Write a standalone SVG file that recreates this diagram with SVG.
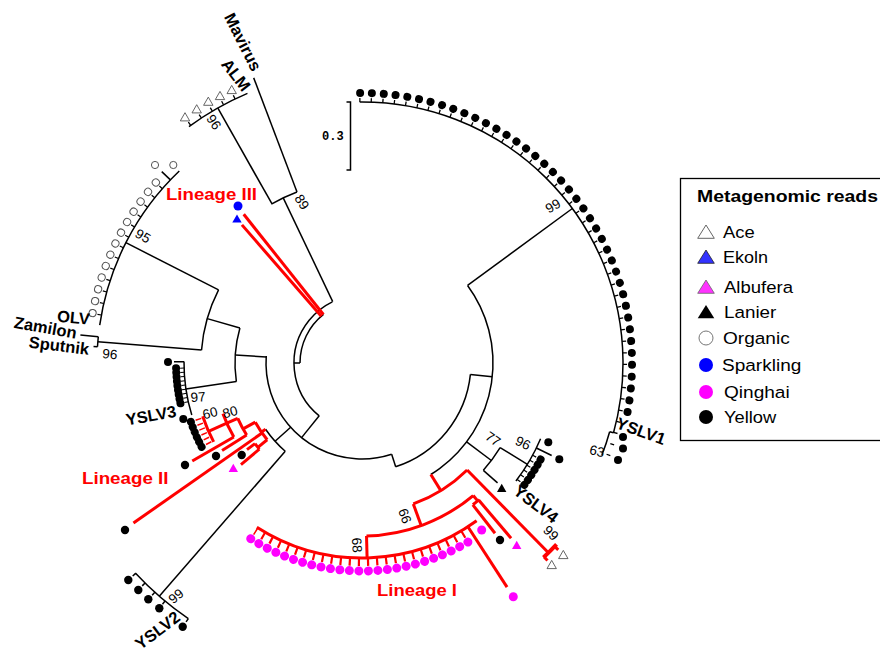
<svg xmlns="http://www.w3.org/2000/svg" width="880" height="652" viewBox="0 0 880 652">
  <defs>
    <style>
      .k{fill:none;stroke:#000;stroke-width:1.5}
      .r{fill:none;stroke:#f00;stroke-width:3}
      .dots{fill:none;stroke-linecap:round}
      .tip{font-family:"Liberation Sans",Arial,sans-serif;font-weight:bold;font-size:16.5px;fill:#000;text-anchor:middle}
      .bs{font-family:"Liberation Sans",Arial,sans-serif;font-size:13.5px;fill:#000;text-anchor:middle}
      .lin{font-family:"Liberation Sans",Arial,sans-serif;font-weight:bold;font-size:16.5px;fill:#f00}
      .leg{font-family:"Liberation Sans",Arial,sans-serif;font-size:16.3px;fill:#000}
    </style>
    <path id="tri" d="M0,-4.6L4.7,3.6H-4.7Z"/>
    <path id="triL" d="M0,-7L8.3,6.3H-8.3Z"/>
  </defs>
  <rect width="880" height="652" fill="#fff"/>

  <!-- branches of the circular tree, polar frame centred on the root -->
  <g id="connectors" transform="translate(362,363)">
    <g class="k">
      <!-- root arcs -->
      <circle r="68" stroke-dasharray="136.5 2000" transform="rotate(129)"/>
      <circle r="62" stroke-dasharray="55.73 2000" transform="rotate(180)"/>
      <line x1="62" x2="68" transform="rotate(180)"/>
      <line x1="68" x2="96" transform="rotate(129)"/>
      <circle r="96" stroke-dasharray="187.66 2000" transform="rotate(72)"/>
      <line x1="96" x2="109" transform="rotate(72)"/>
      <circle r="109" stroke-dasharray="125.56 2000" transform="rotate(6)"/>
      <line x1="109" x2="131" transform="rotate(6)"/>
      <circle r="131" stroke-dasharray="216.29 2000" transform="rotate(-36.3)"/>
      <!-- YSLV1 clade -->
      <line x1="131" x2="261" transform="rotate(-36.3)"/>
      <circle r="261" stroke-dasharray="482.86 3000" transform="rotate(-90.5)"/>
      <line x1="257" x2="261" transform="rotate(15.5)"/>
      <circle r="257" stroke-dasharray="24.67 3000" transform="rotate(15.5)"/>
      <path d="M263,0A263,263 0 0 1 -96.0,244.9" stroke-width="4" stroke-dasharray="1.3 10.267" transform="rotate(-90.6)"/>
      <!-- YSLV4 clade -->
      <line x1="131" x2="162" transform="rotate(37)"/>
      <circle r="162" stroke-dasharray="28.27 2000" transform="rotate(31.5)"/>
      <line x1="162" x2="194" transform="rotate(31.5)"/>
      <circle r="194" stroke-dasharray="49.10 2000" transform="rotate(23)"/>
      <line x1="194" x2="211" transform="rotate(26)"/>
      <line x1="162" x2="181" transform="rotate(41.5)"/>
      <path d="M196,0A196,196 0 0 1 193.6,30.7" stroke-width="4" stroke-dasharray="1.2 4.615" transform="rotate(28.2)"/>
      <!-- Mavirus / ALM clade -->
      <line x1="68" x2="183" transform="rotate(-115.5)"/>
      <circle r="183" stroke-dasharray="28.43 2000" transform="rotate(-119.7)"/>
      <line x1="183" x2="305" transform="rotate(-110.8)"/>
      <line x1="183" x2="293" transform="rotate(-119.5)"/>
      <circle r="293" stroke-dasharray="67.50 3000" transform="rotate(-126.2)"/>
      <path d="M295,0A295,295 0 0 1 290.0,54.3" stroke-width="4" stroke-dasharray="1.3 11.7" transform="rotate(-125.9)"/>
      <!-- OLV / Zamilon / Sputnik clade -->
      <line x1="96" x2="127" transform="rotate(183.6)"/>
      <circle r="127" stroke-dasharray="54.08 2000" transform="rotate(171.6)"/>
      <line x1="127" x2="161" transform="rotate(196)"/>
      <circle r="161" stroke-dasharray="62.94 2000" transform="rotate(184.6)"/>
      <line x1="161" x2="265" transform="rotate(207)"/>
      <circle r="265" stroke-dasharray="176.68 3000" transform="rotate(188.2)"/>
      <path d="M267,0A267,267 0 0 1 228.4,138.3" stroke-width="4" stroke-dasharray="1.2 10.72" transform="rotate(190.3)"/>
      <line x1="265" x2="277" transform="rotate(223.7)"/>
      <line x1="161" x2="265" transform="rotate(184.6)"/>
      <circle r="265" stroke-dasharray="10.18 3000" transform="rotate(183.5)"/>
      <line x1="265" x2="283" transform="rotate(185.7)"/>
      <line x1="265" x2="269" transform="rotate(183.5)"/>
      <!-- YSLV3 clade -->
      <line x1="127" x2="178" transform="rotate(171.6)"/>
      <circle r="178" stroke-dasharray="54.37 2000" transform="rotate(163)"/>
      <line x1="178" x2="188" transform="rotate(180.4)"/>
      <path d="M180,0A180,180 0 0 1 176.4,35.6" stroke-width="4" stroke-dasharray="1 3.28" transform="rotate(167.3)"/>
      <!-- YSLV2 clade -->
      <line x1="96" x2="117" transform="rotate(138)"/>
      <circle r="117" stroke-dasharray="29.61 2000" transform="rotate(131)"/>
      <line x1="117" x2="309" transform="rotate(131)"/>
      <circle r="309" stroke-dasharray="70.11 3000" transform="rotate(124.2)"/>
      <line x1="309" x2="313" transform="rotate(137.1)"/>
      <line x1="309" x2="313" transform="rotate(134.6)"/>
      <line x1="309" x2="313" transform="rotate(132.1)"/>
      <line x1="309" x2="313" transform="rotate(129.6)"/>
      <line x1="309" x2="313" transform="rotate(124.2)"/>
    </g>
    <g class="r">
      <!-- Lineage III -->
      <line x1="62" x2="190" transform="rotate(-128.5)"/>
      <line x1="62" x2="183" transform="rotate(-131)"/>
      <!-- Lineage II -->
      <line x1="117" x2="122" transform="rotate(145.5)"/>
      <circle r="122" stroke-dasharray="21.29 2000" transform="rotate(141)"/>
      <line x1="122" x2="134" transform="rotate(141)"/>
      <circle r="134" stroke-dasharray="7.02 2000" transform="rotate(140)"/>
      <line x1="134" x2="144" transform="rotate(143)"/>
      <line x1="134" x2="158" transform="rotate(140)"/>
      <line x1="122" x2="279" transform="rotate(145)"/>
      <line x1="122" x2="136" transform="rotate(151)"/>
      <circle r="136" stroke-dasharray="18.99 2000" transform="rotate(148)"/>
      <line x1="136" x2="165" transform="rotate(148)"/>
      <line x1="136" x2="148" transform="rotate(156)"/>
      <circle r="148" stroke-dasharray="25.83 2000" transform="rotate(150)"/>
      <line x1="148" x2="196" transform="rotate(150)"/>
      <line x1="148" x2="168" transform="rotate(156)"/>
      <circle r="168" stroke-dasharray="27.86 2000" transform="rotate(152)"/>
      <path d="M173,0A173,173 0 0 1 170.8,27.4" stroke-width="6" stroke-dasharray="1.5 3.694" transform="rotate(152.15)"/>
      <!-- Lineage I and its sister branches -->
      <line x1="131" x2="150" transform="rotate(58.3)"/>
      <circle r="150" stroke-dasharray="64.14 2000" transform="rotate(45.5)"/>
      <line x1="150" x2="266" transform="rotate(45.5)"/>
      <circle r="266" stroke-width="4" stroke-dasharray="18.57 3000" transform="rotate(43)"/>
      <line x1="266" x2="271" transform="rotate(43.6)"/>
      <line x1="266" x2="271" transform="rotate(46.8)"/>
      <line x1="150" x2="173" transform="rotate(70)"/>
      <circle r="173" stroke-dasharray="116.25 2000" transform="rotate(50)"/>
      <line x1="173" x2="195" transform="rotate(88.5)"/>
      <circle r="195" stroke-dasharray="233.47 2000" transform="rotate(54)"/>
      <path d="M199,0A199,199 0 0 1 89.1,177.9" stroke-width="8" stroke-dasharray="2.2 6.9" transform="rotate(59.1)"/>
      <line x1="195" x2="267" transform="rotate(57.1)"/>
      <line x1="173" x2="180" transform="rotate(50)"/>
      <circle r="180" stroke-dasharray="8.17 2000" transform="rotate(49.4)"/>
      <line x1="180" x2="216" transform="rotate(52)"/>
      <line x1="180" x2="230" transform="rotate(49.6)"/>
    </g>
  </g>

  <!-- YSLV1 clade tips -->
  <g id="yslv1">
    <path class="dots" d="M270,0A270,270 0 0 1 -52.9,264.8" stroke="#000" stroke-width="8" stroke-dasharray="0.01 11.865" transform="translate(362,363) rotate(-90.4)"/>
    <circle cx="623" cy="437" r="4"/>
    <circle cx="623" cy="448.5" r="4"/>
    <circle cx="618" cy="460" r="4"/>
    <text class="tip" dy=".35em" transform="translate(641,431) rotate(20)">YSLV1</text>
    <text class="bs" dy=".35em" transform="translate(553,206) rotate(-30)">99</text>
    <text class="bs" dy=".35em" transform="translate(597,451) rotate(12)">63</text>
  </g>

  <!-- YSLV4 clade tips -->
  <g id="yslv4">
    <path class="dots" d="M203,0A203,203 0 0 1 200.5,31.8" stroke="#000" stroke-width="8" stroke-dasharray="0.01 6.013" transform="translate(362,363) rotate(28.4)"/>
    <circle cx="548.3" cy="442.3" r="4"/>
    <circle cx="559.3" cy="459.3" r="4"/>
    <use href="#tri" x="501.7" y="488.3" fill="#000"/>
    <text class="tip" dy=".35em" transform="translate(536,504) rotate(37)">YSLV4</text>
    <text class="bs" dy=".35em" transform="translate(493,439) rotate(35)">77</text>
    <text class="bs" dy=".35em" transform="translate(523,443) rotate(25)">96</text>
  </g>

  <!-- Lineage I -->
  <g id="lineage-1">
    <path class="dots" d="M208,0A208,208 0 0 1 93.1,186.0" stroke="#f0f" stroke-width="9" stroke-dasharray="0.01 9.501" transform="translate(362,363) rotate(59.4)"/>
    <circle cx="481.7" cy="530" r="4.5" fill="#f0f"/>
    <circle cx="500" cy="540" r="4.2" fill="#000"/>
    <use href="#tri" x="516.7" y="545.3" fill="#f0f"/>
    <circle cx="513.3" cy="596.7" r="4.5" fill="#f0f"/>
    <use href="#tri" x="551.7" y="565" fill="#fff" stroke="#555" stroke-width="0.9"/>
    <use href="#tri" x="563.3" y="555" fill="#fff" stroke="#555" stroke-width="0.9"/>
    <text class="bs" dy=".35em" transform="translate(551,533) rotate(45)">99</text>
    <text class="bs" dy=".35em" transform="translate(405,516) rotate(70)">66</text>
    <text class="bs" dy=".35em" transform="translate(357,545) rotate(85)">68</text>
    <text class="lin" x="377" y="596" textLength="80" lengthAdjust="spacingAndGlyphs">Lineage I</text>
  </g>

  <!-- Lineage II -->
  <g id="lineage-2">
    <path class="dots" d="M181,0A181,181 0 0 1 178.7,28.6" stroke="#000" stroke-width="8" stroke-dasharray="0.01 5.424" transform="translate(362,363) rotate(152.4)"/>
    <circle cx="241.7" cy="455" r="4.2"/>
    <circle cx="216" cy="456" r="4.2"/>
    <circle cx="185" cy="465" r="4.2"/>
    <circle cx="125" cy="530" r="4.2"/>
    <use href="#tri" x="233.3" y="468.3" fill="#f0f"/>
    <text class="bs" dy=".35em" transform="translate(210,413) rotate(-15)">60</text>
    <text class="bs" dy=".35em" transform="translate(230,412) rotate(-15)">80</text>
    <text class="lin" x="82" y="484" textLength="86.5" lengthAdjust="spacingAndGlyphs">Lineage II</text>
  </g>

  <!-- YSLV3 clade -->
  <g id="yslv3">
    <path class="dots" d="M186,0A186,186 0 0 1 182.3,36.8" stroke="#000" stroke-width="8" stroke-dasharray="0.01 4.413" transform="translate(362,363) rotate(167.5)"/>
    <circle cx="168" cy="362" r="4"/>
    <circle cx="183.3" cy="419" r="4"/>
    <text class="tip" dy=".35em" transform="translate(151,415.5) rotate(-10)">YSLV3</text>
    <text class="bs" dy=".35em" transform="translate(198,397) rotate(-5)">97</text>
  </g>

  <!-- YSLV2 clade -->
  <g id="yslv2">
    <circle cx="128.3" cy="580" r="4.2"/>
    <circle cx="138.3" cy="590" r="4.2"/>
    <circle cx="148.3" cy="599.3" r="4.2"/>
    <circle cx="159.3" cy="608.3" r="4.2"/>
    <circle cx="182.7" cy="626.7" r="4.2"/>
    <text class="tip" dy=".35em" transform="translate(157.5,630.3) rotate(-37)">YSLV2</text>
    <text class="bs" dy=".35em" transform="translate(176,596) rotate(-40)">99</text>
  </g>

  <!-- OLV / Zamilon / Sputnik clade -->
  <g id="olv-clade">
    <path class="dots" d="M274,0A274,274 0 0 1 234.4,141.9" stroke="#555" stroke-width="8.2" stroke-dasharray="0.01 12.223" transform="translate(362,363) rotate(190.5)"/>
    <path class="dots" d="M274,0A274,274 0 0 1 234.4,141.9" stroke="#fff" stroke-width="6.2" stroke-dasharray="0.01 12.223" transform="translate(362,363) rotate(190.5)"/>
    <circle cx="155" cy="165" r="3.6" fill="#fff" stroke="#555"/>
    <circle cx="173.3" cy="165" r="3.6" fill="#fff" stroke="#555"/>
    <text class="tip" dy=".35em" transform="translate(73.5,317.5) rotate(5)">OLV</text>
    <text class="tip" dy=".35em" transform="translate(45.5,327.5) rotate(10)">Zamilon</text>
    <text class="tip" dy=".35em" transform="translate(59,345.5) rotate(7)">Sputnik</text>
    <text class="bs" dy=".35em" transform="translate(143,236) rotate(30)">95</text>
    <text class="bs" dy=".35em" transform="translate(110,354) rotate(5)">96</text>
  </g>

  <!-- Mavirus / ALM clade -->
  <g id="mavirus-clade">
    <g fill="#fff" stroke="#555" stroke-width="0.9">
      <use href="#tri" x="185" y="117.3"/>
      <use href="#tri" x="196.7" y="109.3"/>
      <use href="#tri" x="208.3" y="101.7"/>
      <use href="#tri" x="220" y="96"/>
      <use href="#tri" x="231.7" y="90"/>
    </g>
    <text class="tip" dy=".35em" transform="translate(243,42) rotate(63)">Mavirus</text>
    <text class="tip" dy=".35em" transform="translate(236,75) rotate(52)">ALM</text>
    <text class="bs" dy=".35em" transform="translate(214,122) rotate(55)">96</text>
    <text class="bs" dy=".35em" transform="translate(302,202) rotate(57)">89</text>
  </g>

  <!-- Lineage III -->
  <g id="lineage-3">
    <circle cx="238" cy="206" r="4.5" fill="#00f"/>
    <use href="#tri" x="237" y="219" fill="#00f"/>
    <text class="lin" x="166" y="200" textLength="91" lengthAdjust="spacingAndGlyphs">Lineage III</text>
  </g>

  <!-- scale bar -->
  <g id="scale">
    <path d="M346.5,102H350.5V170H346.5" fill="none" stroke="#000" stroke-width="1.5"/>
    <text x="322" y="139.5" font-family="'Liberation Mono',monospace" font-weight="bold" font-size="13" textLength="21.7" lengthAdjust="spacingAndGlyphs">0.3</text>
  </g>

  <!-- legend -->
  <g id="legend">
    <rect x="680.5" y="178.5" width="210" height="262" fill="#fff" stroke="#000" stroke-width="1.3"/>
    <text x="697" y="202" font-family="'Liberation Sans',Arial,sans-serif" font-weight="bold" font-size="17" textLength="181" lengthAdjust="spacingAndGlyphs">Metagenomic reads</text>
    <use href="#triL" x="706" y="232" fill="#fff" stroke="#666" stroke-width="1"/>
    <use href="#triL" x="706" y="257" fill="#3333ff" stroke="#222" stroke-width="0.8"/>
    <use href="#triL" x="706" y="287" fill="#f3f" stroke="#666" stroke-width="0.8"/>
    <use href="#triL" x="706" y="312" fill="#000"/>
    <circle cx="706" cy="338" r="7" fill="#fff" stroke="#777" stroke-width="1"/>
    <circle cx="706" cy="365" r="7" fill="#00f"/>
    <circle cx="706" cy="392" r="7" fill="#f0f"/>
    <circle cx="706" cy="417" r="7" fill="#000"/>
    <text class="leg" x="723" y="238" textLength="31.7" lengthAdjust="spacingAndGlyphs">Ace</text>
    <text class="leg" x="723" y="263" textLength="45" lengthAdjust="spacingAndGlyphs">Ekoln</text>
    <text class="leg" x="724" y="293" textLength="69" lengthAdjust="spacingAndGlyphs">Albufera</text>
    <text class="leg" x="724" y="318" textLength="52.3" lengthAdjust="spacingAndGlyphs">Lanier</text>
    <text class="leg" x="723" y="343.5" textLength="66.7" lengthAdjust="spacingAndGlyphs">Organic</text>
    <text class="leg" x="722" y="371" textLength="79.3" lengthAdjust="spacingAndGlyphs">Sparkling</text>
    <text class="leg" x="724" y="398" textLength="65.7" lengthAdjust="spacingAndGlyphs">Qinghai</text>
    <text class="leg" x="724" y="423" textLength="52.3" lengthAdjust="spacingAndGlyphs">Yellow</text>
  </g>
</svg>
